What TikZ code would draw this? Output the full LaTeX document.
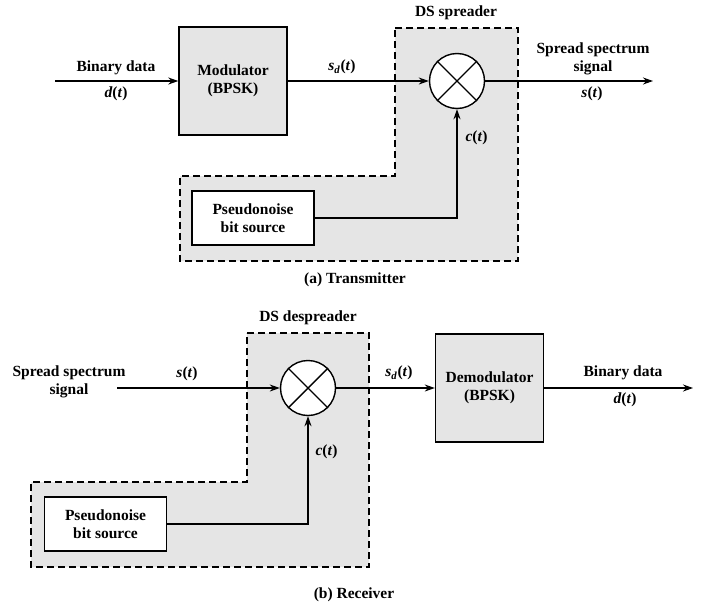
\documentclass[tikz,border=0pt]{standalone}
\usepackage{fontspec}
\setmainfont{Liberation Serif}
\usetikzlibrary{arrows.meta}

\newcommand{\sgn}[1]{\textbf{\textit{#1}}}

\begin{document}
\begin{tikzpicture}[x=1pt,y=-1pt,
    every node/.style={font=\fontsize{15.5}{18}\selectfont\bfseries},
    blk/.style={draw,line width=1.4pt,fill=black!10,minimum width=108pt,minimum height=108pt,align=center},
    pnbox/.style={draw,line width=1.4pt,fill=white,minimum width=122pt,minimum height=54pt,align=center},
    mix/.style={draw,circle,line width=1.4pt,fill=white,minimum size=55pt,inner sep=0pt},
    sig/.style={line width=1.2pt,-{Stealth[length=10pt,width=7pt]}},
    lbl/.style={align=center},
    region/.style={line width=1.1pt,dash pattern=on 7pt off 4pt,fill=black!10}]
  \useasboundingbox (0,0) rectangle (703,613);

  % (a) transmitter
  \draw[region] (395,28) -- (518,28) -- (518,261) -- (180,261) -- (180,176) -- (395,176) -- cycle;
  \node[blk] (mod) at (233,81) {Modulator\\(BPSK)};
  \node[mix] (mx1) at (457,81) {};
  \draw[line width=1.4pt] (mx1.45) -- (mx1.225) (mx1.135) -- (mx1.315);
  \node[pnbox] (pn1) at (253,218) {Pseudonoise\\bit source};
  \coordinate (in1) at (55,81);
  \coordinate (out1) at (653,81);
  \draw[sig] (in1) -- (mod);
  \draw[sig] (mod) -- (mx1);
  \draw[sig] (mx1) -- (out1);
  \draw[sig] (pn1.east) -| (mx1.south);
  \node[lbl] (bin1) at (116,68) {Binary data};
  \node (d1) at (116,94) {\sgn{d}(\sgn{t})};
  \node (sd1) at (342,67) {\sgn{s}\textsubscript{\sgn{d}}(\sgn{t})};
  \node[lbl] (ss1) at (593,59) {Spread spectrum\\signal};
  \node (s1) at (592,94) {\sgn{s}(\sgn{t})};
  \node[anchor=west] (c1) at (462,138) {\sgn{c}(\sgn{t})};
  \node (dss) at (456,13) {DS spreader};
  \node (capa) at (355,280) {(a) Transmitter};

  % (b) receiver
  \draw[region] (247,333) -- (369,333) -- (369,567) -- (31,567) -- (31,482) -- (247,482) -- cycle;
  \node[mix] (mx2) at (308,388) {};
  \draw[line width=1.4pt] (mx2.45) -- (mx2.225) (mx2.135) -- (mx2.315);
  \node[blk] (dem) at (489.5,388) {Demodulator\\(BPSK)};
  \node[pnbox] (pn2) at (105.5,524) {Pseudonoise\\bit source};
  \coordinate (in2) at (117,388);
  \coordinate (out2) at (693,388);
  \draw[sig] (in2) -- (mx2);
  \draw[sig] (mx2) -- (dem);
  \draw[sig] (dem) -- (out2);
  \draw[sig] (pn2.east) -| (mx2.south);
  \node[lbl] (ss2) at (69,382) {Spread spectrum\\signal};
  \node (s2) at (187,374) {\sgn{s}(\sgn{t})};
  \node (sd2) at (399,373) {\sgn{s}\textsubscript{\sgn{d}}(\sgn{t})};
  \node[lbl] (bin2) at (623,373) {Binary data};
  \node (d2) at (625,400) {\sgn{d}(\sgn{t})};
  \node[anchor=west] (c2) at (312,452) {\sgn{c}(\sgn{t})};
  \node (dsd) at (308,318) {DS despreader};
  \node (capb) at (354,595) {(b) Receiver};
\end{tikzpicture}
\end{document}
